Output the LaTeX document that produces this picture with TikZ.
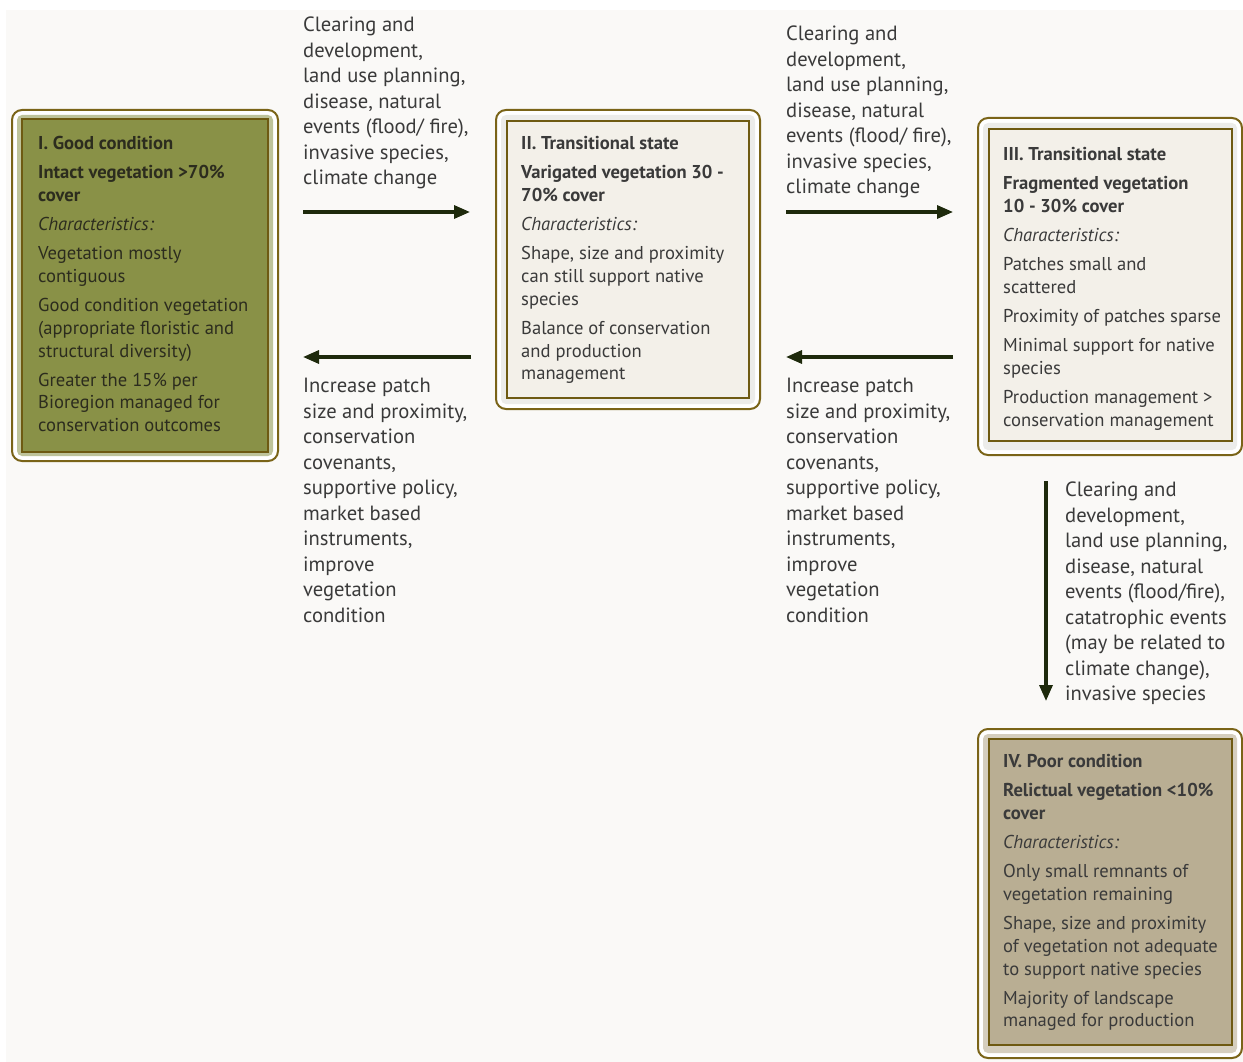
\documentclass[tikz,border=0pt]{standalone}
\usepackage{fontspec}
\setmainfont{PT Sans}
\usetikzlibrary{arrows.meta}
\definecolor{bgc}{HTML}{FAF9F7}
\definecolor{brownout}{HTML}{7A6418}
\definecolor{brownin}{HTML}{6E5A12}
\definecolor{olivefill}{HTML}{899147}
\definecolor{beigefill}{HTML}{F3F0E9}
\definecolor{tanfill}{HTML}{B9AE93}
\definecolor{arrowc}{HTML}{1E2A0C}
\definecolor{txt}{HTML}{3A3A3A}
\definecolor{txtdark}{HTML}{2C2C1E}
\begin{document}
\begin{tikzpicture}[x=1pt,y=-1pt,
  outerbox/.style={draw=brownout, line width=2pt, fill=white, rounded corners=10pt},
  glowbox/.style={rounded corners=5pt},
  innerbox/.style={draw=brownin, line width=2.6pt},
  boxtext/.style={anchor=north west, inner sep=0pt, align=left, font=\fontsize{18.6}{22.7}\selectfont, text=txt},
  sidetext/.style={anchor=north west, inner sep=0pt, align=left, font=\fontsize{20.6}{25.5}\selectfont, text=txt},
  flow/.style={draw=arrowc, line width=3.2pt, -{Triangle[length=16pt,width=13pt]}}]
\useasboundingbox (0,0) rectangle (1243,1062);
\fill[white] (0,0) rectangle (1243,1062);
\fill[bgc] (6,10) rectangle (1243,1062);

% Box I
\path[outerbox] (12,110) rectangle (278,461);
\fill[glowbox, olivefill!55!white] (17,115) rectangle (273,456);
\path[innerbox, fill=olivefill] (22,119) rectangle (268,452);
\node[boxtext, text=txtdark] (t1) at (38,136) {\textbf{I. Good condition}\\[6.5pt]
\textbf{Intact vegetation >70\%}\\ \textbf{cover}\\[6.5pt]
\textit{Characteristics:}\\[6.5pt]
Vegetation mostly\\ contiguous\\[6.5pt]
Good condition vegetation\\ (appropriate floristic and\\ structural diversity)\\[6.5pt]
Greater the 15\% per\\ Bioregion managed for\\ conservation outcomes};

% Box II
\path[outerbox] (496,110) rectangle (760,409);
\fill[glowbox, beigefill!70!gray!40!white] (501,115) rectangle (755,404);
\path[innerbox, fill=beigefill] (507,121) rectangle (749,398);
\node[boxtext] (t2) at (521,136) {\textbf{II. Transitional state}\\[6.5pt]
\textbf{Varigated vegetation 30 -}\\ \textbf{70\% cover}\\[6.5pt]
\textit{Characteristics:}\\[6.5pt]
Shape, size and proximity\\ can still support native\\ species\\[6.5pt]
Balance of conservation\\ and production\\ management};

% Box III
\path[outerbox] (978,118) rectangle (1242,455);
\fill[glowbox, beigefill!70!gray!40!white] (983,123) rectangle (1237,450);
\path[innerbox, fill=beigefill] (989,129) rectangle (1232,441);
\node[boxtext] (t3) at (1003,147) {\textbf{III. Transitional state}\\[6.5pt]
\textbf{Fragmented vegetation}\\ \textbf{10 - 30\% cover}\\[6.5pt]
\textit{Characteristics:}\\[6.5pt]
Patches small and\\ scattered\\[6.5pt]
Proximity of patches sparse\\[6.5pt]
Minimal support for native\\ species\\[6.5pt]
Production management >\\ conservation management};

% Box IV
\path[outerbox] (978,729) rectangle (1242,1058);
\fill[glowbox, tanfill!60!white] (983,734) rectangle (1237,1053);
\path[innerbox, fill=tanfill] (989,739) rectangle (1232,1045);
\node[boxtext] (t4) at (1003,754) {\textbf{IV. Poor condition}\\[6.5pt]
\textbf{Relictual vegetation <10\%}\\ \textbf{cover}\\[6.5pt]
\textit{Characteristics:}\\[6.5pt]
Only small remnants of\\ vegetation remaining\\[6.5pt]
Shape, size and proximity\\ of vegetation not adequate\\ to support native species\\[6.5pt]
Majority of landscape\\ managed for production};

% side texts
\node[sidetext] (s1) at (303,17) {Clearing and\\ development,\\ land use planning,\\ disease, natural\\ events (flood/ fire),\\ invasive species,\\ climate change};
\node[sidetext] (s2) at (303,378) {Increase patch\\ size and proximity,\\ conservation\\ covenants,\\ supportive policy,\\ market based\\ instruments,\\ improve\\ vegetation\\ condition};
\node[sidetext] (s3) at (786,26) {Clearing and\\ development,\\ land use planning,\\ disease, natural\\ events (flood/ fire),\\ invasive species,\\ climate change};
\node[sidetext] (s4) at (786,378) {Increase patch\\ size and proximity,\\ conservation\\ covenants,\\ supportive policy,\\ market based\\ instruments,\\ improve\\ vegetation\\ condition};
\node[sidetext] (s5) at (1065,482) {Clearing and\\ development,\\ land use planning,\\ disease, natural\\ events (flood/fire),\\ catatrophic events\\ (may be related to\\ climate change),\\ invasive species};

% arrows
\coordinate (a1s) at (303,212); \coordinate (a1e) at (470,212);
\coordinate (a2s) at (471,357); \coordinate (a2e) at (303,357);
\coordinate (a3s) at (786,212); \coordinate (a3e) at (953,212);
\coordinate (a4s) at (953,357); \coordinate (a4e) at (786,357);
\coordinate (a5s) at (1046,481); \coordinate (a5e) at (1046,701);
\draw[flow] (a1s) -- (a1e);
\draw[flow] (a2s) -- (a2e);
\draw[flow] (a3s) -- (a3e);
\draw[flow] (a4s) -- (a4e);
\draw[flow] (a5s) -- (a5e);
\end{tikzpicture}
\end{document}
